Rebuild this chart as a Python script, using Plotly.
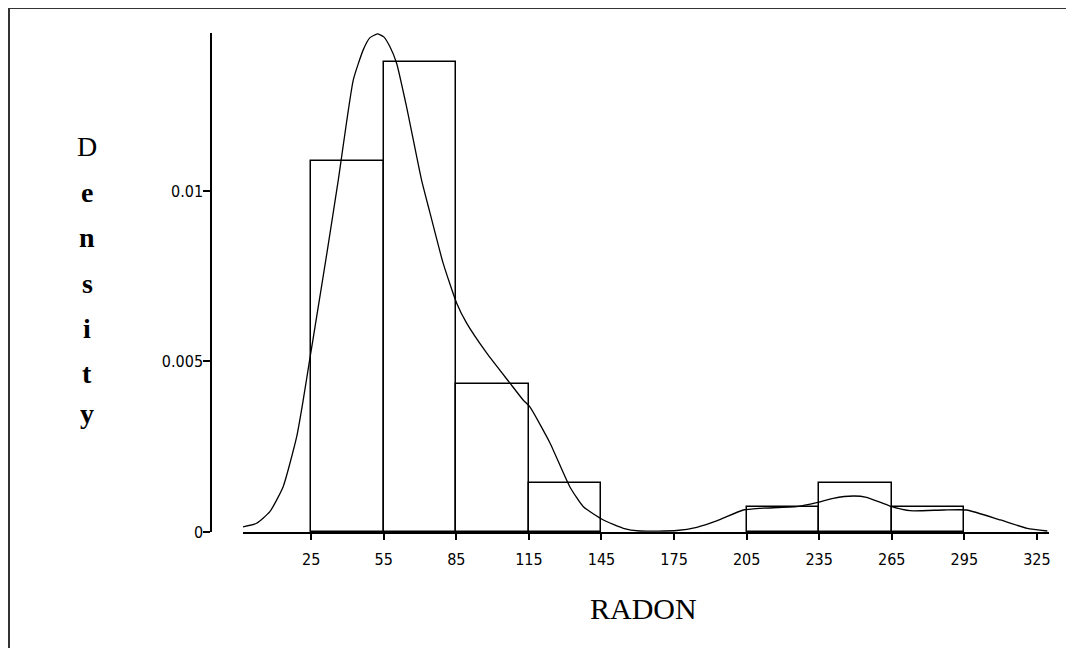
import plotly.graph_objects as go

# ---- data ----
bin_left = [25, 55, 85, 115, 145, 175, 205, 235, 265]
bin_density = [0.01087, 0.01377, 0.00435, 0.00145, 0.0, 0.0, 0.000725, 0.00145, 0.000725]
bin_width = 30

curve_x = [-3.2, 2.4, 7.9, 13.4, 19.0, 21.7, 24.5, 26.6, 31.5, 36.2, 42.4, 46.5,
           49.2, 52.4, 55.0, 57.5, 60.3, 64.4, 70.6, 74.0, 79.5, 85.1, 89.2, 97.5, 107.1,
           112.6, 115.4, 123.7, 131.9, 137.5, 145.8, 154.0, 160.9, 176.1, 184.4, 192.6,
           203.6, 210.5, 225.7, 234.0, 240.8, 249.1, 254.6, 264.3, 272.5, 286.3, 296.0,
           309.9, 321.0, 329.3]
curve_y = [0.000147, 0.000255, 0.000595, 0.001328, 0.002795, 0.003871, 0.005110, 0.006030,
           0.008185, 0.010323, 0.013255, 0.014135, 0.014487, 0.014604,
           0.014516, 0.014232, 0.013745, 0.012472, 0.010323, 0.009384, 0.007889, 0.006716,
           0.006129, 0.005249, 0.004370, 0.003871, 0.003666, 0.002610, 0.001328, 0.000742,
           0.000352, 0.000109, 0.000029, 0.000044, 0.000138, 0.000323, 0.000645, 0.000695,
           0.000742, 0.000859, 0.000988, 0.001056, 0.001018, 0.000762, 0.000625, 0.000645,
           0.000645, 0.000352, 0.000109, 0.000029]

x_ticks = [25, 55, 85, 115, 145, 175, 205, 235, 265, 295, 325]
y_ticks = [0, 0.005, 0.01]
y_ticklabels = ["0", "0.005", "0.01"]
x_title = "RADON"
y_title = "Density"

# ---- layout geometry (page pixels; the page body has an 8px top/left margin) ----
OFF = 8
W, H = 1074 - OFF, 648 - OFF
L, R, T, B = 211 - OFF, 25, 33 - OFF, 116
pw, ph = W - L - R, H - T - B


def px_x(p):
    return (p - OFF - L) / pw


def px_y(p):
    return (H - B - (p - OFF)) / ph


tick_font = dict(family="Liberation Sans Narrow, DejaVu Sans Condensed, Arial Narrow", size=16, color="black")

# only bins with observations get an outline
bars = [(b + bin_width / 2, d) for b, d in zip(bin_left, bin_density) if d > 0]

fig = go.Figure()
fig.add_trace(go.Bar(
    x=[c for c, _ in bars], y=[d for _, d in bars], width=bin_width,
    marker=dict(color="rgba(0,0,0,0)", line=dict(color="black", width=1.5)),
    showlegend=False, hoverinfo="skip"))
fig.add_trace(go.Scatter(
    x=curve_x, y=curve_y, mode="lines",
    line=dict(color="black", width=1.3, shape="spline", smoothing=0.5),
    showlegend=False))

fig.update_layout(
    width=W, height=H,
    margin=dict(l=L, r=R, t=T, b=B, pad=0),
    paper_bgcolor="white", plot_bgcolor="white",
    bargap=0,
    xaxis=dict(range=[-3.2, 330], domain=[px_x(243), 1], tickvals=x_ticks,
               showline=True, linecolor="black", linewidth=1.5, ticks="outside",
               ticklen=6, tickcolor="black", tickwidth=1.5, showgrid=False, zeroline=False,
               tickfont=tick_font, ticklabelstandoff=6),
    yaxis=dict(range=[0, 0.01463], anchor="free", position=0, tickvals=y_ticks,
               ticktext=y_ticklabels, showline=True, linecolor="black", linewidth=1.5,
               ticks="outside", ticklen=7, tickcolor="black", tickwidth=1.5,
               showgrid=False, zeroline=False, tickfont=tick_font, ticklabelstandoff=-3),
)

# x title
fig.add_annotation(text=x_title, x=px_x(643), y=px_y(608), xref="paper", yref="paper",
                   showarrow=False, xanchor="center", yanchor="middle",
                   font=dict(family="Liberation Serif, Times New Roman, serif", size=30, color="black"))

# vertical stacked y title
letter_centers = [146, 192, 238, 283, 328, 373, 413]
for i, ch in enumerate(y_title):
    txt = ch if i == 0 else "<b>" + ch + "</b>"
    fig.add_annotation(text=txt, x=px_x(87), y=px_y(letter_centers[i]), xref="paper", yref="paper",
                       showarrow=False, xanchor="center", yanchor="middle",
                       font=dict(family="Liberation Serif, Times New Roman, serif", size=28, color="black"))

# outer frame (left and top edges visible)
frame = dict(color="#333333", width=2)
fig.add_shape(type="line", xref="paper", yref="paper", x0=px_x(9), x1=px_x(9), y0=px_y(8), y1=px_y(660), line=frame)
fig.add_shape(type="line", xref="paper", yref="paper", x0=px_x(4), x1=px_x(1080), y0=px_y(8), y1=px_y(8), line=frame)

fig.write_html("out.html")
